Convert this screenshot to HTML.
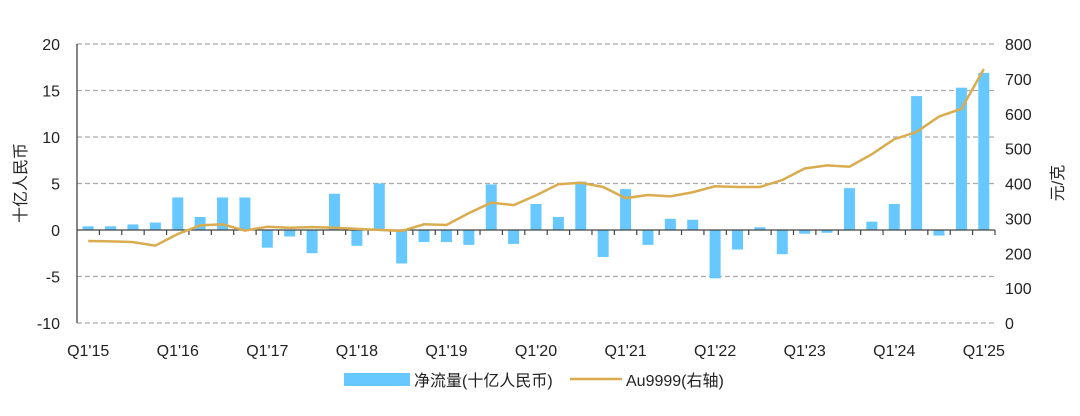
<!DOCTYPE html>
<html><head><meta charset="utf-8"><style>
body{margin:0;background:#fff;width:1080px;height:411px;overflow:hidden}
svg text{font-family:"Liberation Sans","Noto Sans CJK SC",sans-serif;fill:#222}
</style></head><body>
<svg id="c" width="1080" height="411"></svg>
<script>
const categories=["Q1'15","Q2'15","Q3'15","Q4'15","Q1'16","Q2'16","Q3'16","Q4'16","Q1'17","Q2'17","Q3'17","Q4'17","Q1'18","Q2'18","Q3'18","Q4'18","Q1'19","Q2'19","Q3'19","Q4'19","Q1'20","Q2'20","Q3'20","Q4'20","Q1'21","Q2'21","Q3'21","Q4'21","Q1'22","Q2'22","Q3'22","Q4'22","Q1'23","Q2'23","Q3'23","Q4'23","Q1'24","Q2'24","Q3'24","Q4'24","Q1'25"];
const netFlow=[0.4,0.4,0.6,0.8,3.5,1.4,3.5,3.5,-1.9,-0.7,-2.5,3.9,-1.7,5.0,-3.6,-1.3,-1.3,-1.6,4.9,-1.5,2.8,1.4,5.2,-2.9,4.4,-1.6,1.2,1.1,-5.2,-2.1,0.3,-2.6,-0.4,-0.3,4.5,0.9,2.8,14.4,-0.6,15.3,16.9];
const goldPrice=[235,234,232,222,255,280,283,265,276,273,275,273,270,267,264,283,281,315,345,338,366,398,402,390,358,367,363,375,392,390,390,410,443,452,448,484,527,548,592,614,728];
const leftTicks=[20,15,10,5,0,-5,-10];
const rightTicks=[800,700,600,500,400,300,200,100,0];
const NS="http://www.w3.org/2000/svg";
const svg=document.getElementById('c');
const X0=77,X1=995,YT=44,YB=323;
const n=categories.length,bw=(X1-X0)/n;
const yL=v=>YT+(20-v)/30*(YB-YT);
const yR=v=>YT+(800-v)/800*(YB-YT);
const xC=i=>X0+bw*(i+0.5);
function el(t,a,txt){const e=document.createElementNS(NS,t);for(const k in a)e.setAttribute(k,a[k]);if(txt!=null)e.textContent=txt;svg.appendChild(e);return e;}
leftTicks.forEach(v=>{
 if(v!==0){const g=el('line',{x1:X0,x2:X1,y1:yL(v),y2:yL(v),stroke:'#aaa','stroke-width':1.3,'stroke-dasharray':'5,3'});
 
 }
 const t=el('text',{x:60,y:yL(v)+6,'text-anchor':'end','font-size':16},v);
 
 
});
rightTicks.forEach(v=>{
 const t=el('text',{x:1005,y:yR(v)+6,'font-size':16},v);
 
 
});
const ax=el('line',{x1:X0,x2:X0,y1:YT,y2:YB,stroke:'#444','stroke-width':1.3});


netFlow.forEach((v,i)=>{
 const y=Math.min(yL(v),yL(0)),h=Math.abs(yL(v)-yL(0));
 const r=el('rect',{x:xC(i)-5.5,y:y,width:11,height:h,fill:'#66c8ff'});
 
 
});
const zx=el('line',{x1:X0,x2:X1,y1:yL(0),y2:yL(0),stroke:'#444','stroke-width':1.3});


for(let i=1;i<=n;i++){const t=el('line',{x1:X0+bw*i,x2:X0+bw*i,y1:yL(0),y2:yL(0)+5,stroke:'#444','stroke-width':1.2});
 
 }
const p=el('polyline',{points:goldPrice.map((v,i)=>xC(i)+','+yR(v)).join(' '),fill:'none',stroke:'#d9ac4f','stroke-width':2.5});


categories.forEach((c,i)=>{if(i%4===0){
 const t=el('text',{x:xC(i),y:356,'text-anchor':'middle','font-size':16},c);
 
 }});
const lt=el('text',{transform:'translate(26,183) rotate(-90)','text-anchor':'middle','font-size':16},'十亿人民币');


const rt=el('text',{transform:'translate(1063,183) rotate(-90)','text-anchor':'middle','font-size':16},'元/克');


const l1=el('rect',{x:344,y:373,width:66,height:13,fill:'#66c8ff'});


const l1t=el('text',{x:414,y:386,'font-size':16},'净流量(十亿人民币)');


const l2=el('line',{x1:570,x2:622,y1:379,y2:379,stroke:'#d9ac4f','stroke-width':2.5});


const l2t=el('text',{x:626,y:386,'font-size':16},'Au9999(右轴)');


</script>
</body></html>
